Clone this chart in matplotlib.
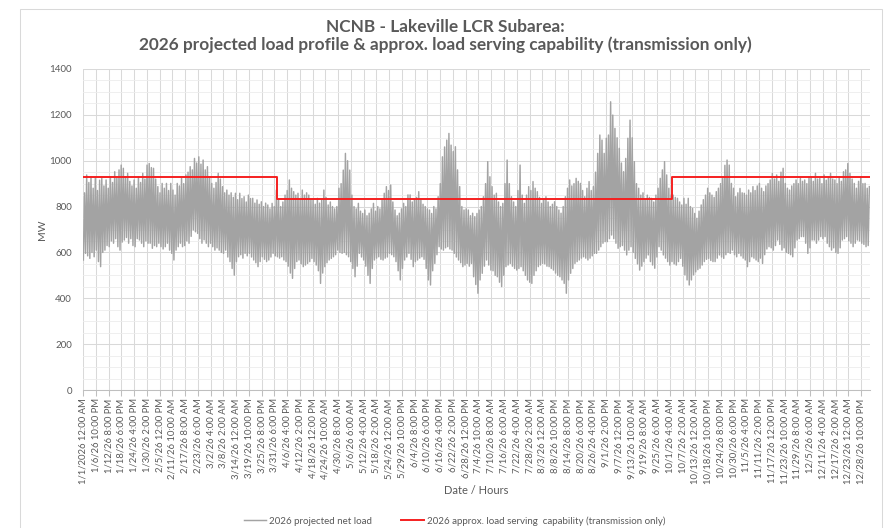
import numpy as np
import matplotlib
matplotlib.use("Agg")
import matplotlib.pyplot as plt
from matplotlib.patches import Rectangle

plt.rcParams['font.family'] = ['Lato', 'DejaVu Sans']

# daily peak / daily minimum of the 2026 projected net load (MW)
daily_peak_mw = [
    860, 938, 905, 930, 880, 923, 870, 915, 923, 890, 916, 880, 930, 905, 952, 925, 960, 981, 967, 930, 945, 910, 890, 916, 880, 930, 905, 945, 920, 981, 988,  # jan
    970, 967, 920, 887, 860, 901, 880, 901, 870, 901, 872, 850, 901, 890, 923, 900, 938, 950, 974, 960, 1010, 990, 1017, 985, 1003, 960, 974, 930,  # feb
    901, 880, 905, 945, 920, 887, 860, 872, 850, 860, 840, 858, 830, 858, 835, 843, 820, 850, 835, 836, 815, 829, 810, 821, 800, 815, 807, 790, 814, 800, 872,  # mar
    830, 800, 820, 850, 870, 916, 880, 865, 850, 858, 830, 872, 850, 860, 850, 830, 829, 810, 836, 815, 829, 872, 840, 807, 820, 800, 790, 800, 880, 900,  # apr
    959, 1032, 1000, 959, 850, 800, 790, 814, 780, 770, 785, 760, 771, 790, 814, 780, 800, 790, 830, 858, 887, 870, 894, 820, 785, 760, 771, 790, 814, 800, 851,  # may
    851, 820, 829, 840, 865, 830, 810, 800, 790, 785, 770, 800, 790, 843, 900, 1017, 1060, 1090, 1119, 1068, 1040, 1061, 960, 887, 800, 785, 790, 785, 760, 771,  # jun
    756, 770, 785, 800, 843, 900, 996, 930, 887, 850, 858, 820, 800, 814, 900, 1003, 900, 843, 820, 800, 870, 981, 850, 814, 850, 887, 870, 909, 880, 865, 840,  # jul
    814, 830, 843, 820, 800, 810, 821, 800, 785, 771, 800, 843, 880, 916, 890, 900, 923, 910, 901, 870, 843, 880, 909, 870, 887, 950, 1032, 1112, 1090, 1032, 1098,  # aug
    1112, 1257, 1199, 1141, 1100, 1054, 990, 952, 1010, 1098, 1177, 1100, 996, 900, 880, 850, 860, 830, 850, 840, 836, 820, 850, 880, 923, 960, 996, 938, 880, 850,  # sep
    850, 840, 836, 820, 807, 836, 810, 836, 800, 792, 770, 749, 780, 807, 830, 850, 880, 860, 850, 840, 865, 880, 900, 923, 980, 1003, 981, 901, 880, 843, 860,  # oct
    879, 860, 858, 850, 872, 860, 887, 870, 890, 901, 880, 865, 890, 900, 916, 945, 920, 938, 910, 950, 967, 901, 880, 872, 890, 900, 916, 900, 923, 910,  # nov
    916, 900, 930, 930, 910, 945, 920, 923, 900, 938, 915, 930, 945, 920, 916, 900, 930, 910, 952, 960, 988, 945, 920, 901, 880, 910, 930, 900, 901, 880, 887,  # dec
]
daily_low_mw = [
    567, 596, 585, 574, 600, 581, 610, 560, 538, 600, 610, 630, 625, 650, 640, 660, 625, 610, 645, 654, 665, 640, 660, 630, 625, 660, 654, 640, 625, 650, 640,  # jan
    640, 618, 630, 625, 640, 625, 615, 625, 640, 610, 596, 567, 610, 625, 640, 625, 630, 650, 640, 670, 698, 690, 683, 660, 640, 655, 640, 625,  # feb
    640, 625, 610, 620, 610, 600, 596, 610, 580, 560, 530, 501, 560, 581, 590, 575, 596, 585, 596, 580, 567, 555, 538, 560, 581, 570, 560, 567, 580, 596, 585,  # mar
    581, 575, 581, 567, 560, 540, 510, 487, 530, 560, 567, 550, 538, 545, 552, 560, 574, 560, 545, 520, 465, 510, 538, 555, 567, 574, 581, 590, 610, 600,  # apr
    596, 600, 590, 581, 560, 530, 494, 540, 596, 580, 567, 540, 500, 465, 530, 567, 575, 581, 570, 567, 575, 580, 596, 590, 581, 560, 520, 480, 530, 567, 580,  # may
    596, 570, 538, 560, 567, 575, 581, 570, 530, 480, 458, 520, 552, 590, 625, 615, 610, 620, 625, 615, 610, 596, 580, 567, 555, 538, 545, 552, 540, 552,  # jun
    494, 460, 422, 480, 509, 540, 567, 545, 523, 520, 500, 494, 470, 451, 500, 538, 545, 552, 540, 530, 523, 530, 538, 520, 500, 480, 470, 465, 500, 520, 538,  # jul
    545, 552, 550, 540, 538, 530, 523, 510, 500, 494, 480, 465, 422, 480, 509, 530, 552, 560, 567, 575, 581, 575, 567, 575, 585, 596, 596, 610, 625, 640, 647,  # aug
    647, 660, 676, 660, 640, 618, 625, 630, 610, 589, 610, 625, 600, 574, 550, 523, 540, 560, 575, 589, 560, 545, 531, 580, 625, 610, 589, 575, 560, 545,  # sep
    560, 550, 545, 560, 574, 540, 502, 480, 458, 480, 502, 515, 525, 531, 545, 560, 570, 574, 565, 560, 560, 575, 589, 580, 574, 590, 600, 596, 610, 590, 581,  # oct
    596, 585, 575, 567, 538, 560, 581, 575, 567, 560, 575, 552, 590, 615, 625, 620, 610, 630, 654, 635, 610, 620, 600, 596, 590, 581, 620, 654, 660, 669,  # nov
    669, 640, 596, 620, 654, 654, 640, 654, 669, 660, 669, 640, 625, 610, 620, 600, 596, 620, 654, 660, 669, 650, 640, 625, 640, 654, 650, 640, 635, 625, 630,  # dec
]

# approx. load serving capability (transmission only): level per period, period boundaries in hours
cap_levels_mw = [930, 835, 930]
cap_bounds_hr = [0, 2160, 6552, 8760]

tick_labels = [
    "1/1/2026 12:00 AM", "1/6/26 10:00 PM", "1/12/26 8:00 PM", "1/18/26 6:00 PM", "1/24/26 4:00 PM",
    "1/30/26 2:00 PM", "2/5/26 12:00 PM", "2/11/26 10:00 AM", "2/17/26 8:00 AM", "2/23/26 6:00 AM",
    "3/2/26 4:00 AM", "3/8/26 2:00 AM", "3/14/26 12:00 AM", "3/19/26 10:00 PM", "3/25/26 8:00 PM",
    "3/31/26 6:00 PM", "4/6/26 4:00 PM", "4/12/26 2:00 PM", "4/18/26 12:00 PM", "4/24/26 10:00 AM",
    "4/30/26 8:00 AM", "5/6/26 6:00 AM", "5/12/26 4:00 AM", "5/18/26 2:00 AM", "5/24/26 12:00 AM",
    "5/29/26 10:00 PM", "6/4/26 8:00 PM", "6/10/26 6:00 PM", "6/16/26 4:00 PM", "6/22/26 2:00 PM",
    "6/28/26 12:00 PM", "7/4/26 10:00 AM", "7/10/26 8:00 AM", "7/16/26 6:00 AM", "7/22/26 4:00 AM",
    "7/28/26 2:00 AM", "8/3/26 12:00 AM", "8/8/26 10:00 PM", "8/14/26 8:00 PM", "8/20/26 6:00 PM",
    "8/26/26 4:00 PM", "9/1/26 2:00 PM", "9/7/26 12:00 PM", "9/13/26 10:00 AM", "9/19/26 8:00 AM",
    "9/25/26 6:00 AM", "10/1/26 4:00 AM", "10/7/26 2:00 AM", "10/13/26 12:00 AM", "10/18/26 10:00 PM",
    "10/24/26 8:00 PM", "10/30/26 6:00 PM", "11/5/26 4:00 PM", "11/11/26 2:00 PM", "11/17/26 12:00 PM",
    "11/23/26 10:00 AM", "11/29/26 8:00 AM", "12/5/26 6:00 AM", "12/11/26 4:00 AM", "12/17/26 2:00 AM",
    "12/23/26 12:00 AM", "12/28/26 10:00 PM",
]
label_step_hr = 142

txt = '#595959'
grid = '#D9D9D9'

# daily low early morning, daily peak late afternoon
xs, ys = [], []
for d in range(len(daily_peak_mw)):
    xs += [24 * d + 4, 24 * d + 17]
    ys += [daily_low_mw[d], daily_peak_mw[d]]

cap_x, cap_y = [], []
for i, lvl in enumerate(cap_levels_mw):
    cap_x += [cap_bounds_hr[i], cap_bounds_hr[i + 1]]
    cap_y += [lvl, lvl]

fig = plt.figure(figsize=(8.9, 5.28), dpi=100)
ax = fig.add_axes([83 / 890, 1 - 390 / 528, 787 / 890, 321 / 528])

ax.plot(xs, ys, color='#A3A3A3', lw=1.05, label='2026 projected net load', zorder=3)
ax.plot(cap_x, cap_y, color='#F52020', lw=1.4,
        label='2026 approx. load serving  capability (transmission only)', zorder=4)

ax.set_xlim(0, 8760)
ax.set_ylim(0, 1400)
ax.set_yticks(np.arange(0, 1401, 200))
ax.set_yticks(np.arange(0, 1401, 50), minor=True)
tick_pos = [i * label_step_hr for i in range(len(tick_labels))]
ax.set_xticks(tick_pos)
ax.set_xticklabels(tick_labels, rotation=90, fontsize=6.8, color=txt)
ax.tick_params(axis='x', direction='out', length=4, width=0.75, color='#BFBFBF', pad=2)
ax.tick_params(axis='y', which='both', length=0, labelsize=7, labelcolor=txt, pad=8)

ax.grid(True, axis='y', which='major', color=grid, lw=0.75, zorder=0)
ax.grid(True, axis='y', which='minor', color='#EDEDED', lw=0.6, zorder=0)
ax.grid(True, axis='x', which='major', color=grid, lw=0.75, zorder=0)
ax.set_axisbelow(True)
for s in ['top', 'right', 'left']:
    ax.spines[s].set_visible(False)
ax.spines['bottom'].set_color('#BFBFBF')
ax.spines['bottom'].set_linewidth(0.75)

fig.text(42.5 / 890, 1 - 230 / 528, 'MW', rotation=90, ha='center', va='center', fontsize=7.5, color=txt)
fig.text(476.5 / 890, 1 - 491 / 528, 'Date / Hours', ha='center', va='center', fontsize=8, color=txt)

fig.text(0.5, 1 - 27 / 528, 'NCNB - Lakeville LCR Subarea:', ha='center', va='center',
         fontsize=12.4, fontweight='bold', color=txt)
fig.text(0.5, 1 - 45 / 528,
         '2026 projected load profile & approx. load serving capability (transmission only)',
         ha='center', va='center', fontsize=12.4, fontweight='bold', color=txt)

handles, labels = ax.get_legend_handles_labels()
fig.legend(handles, labels, loc='center', bbox_to_anchor=(454.5 / 890, 1 - 521 / 528), ncol=2,
           frameon=False, fontsize=7, labelcolor=txt, handlelength=2.3, handletextpad=0.3,
           columnspacing=3.0)

fig.add_artist(Rectangle((20 / 890, -0.01), 862 / 890, 1.01 - 9 / 528, transform=fig.transFigure,
                         fill=False, edgecolor=grid, lw=0.75))

fig.savefig('out.png', dpi=100)
